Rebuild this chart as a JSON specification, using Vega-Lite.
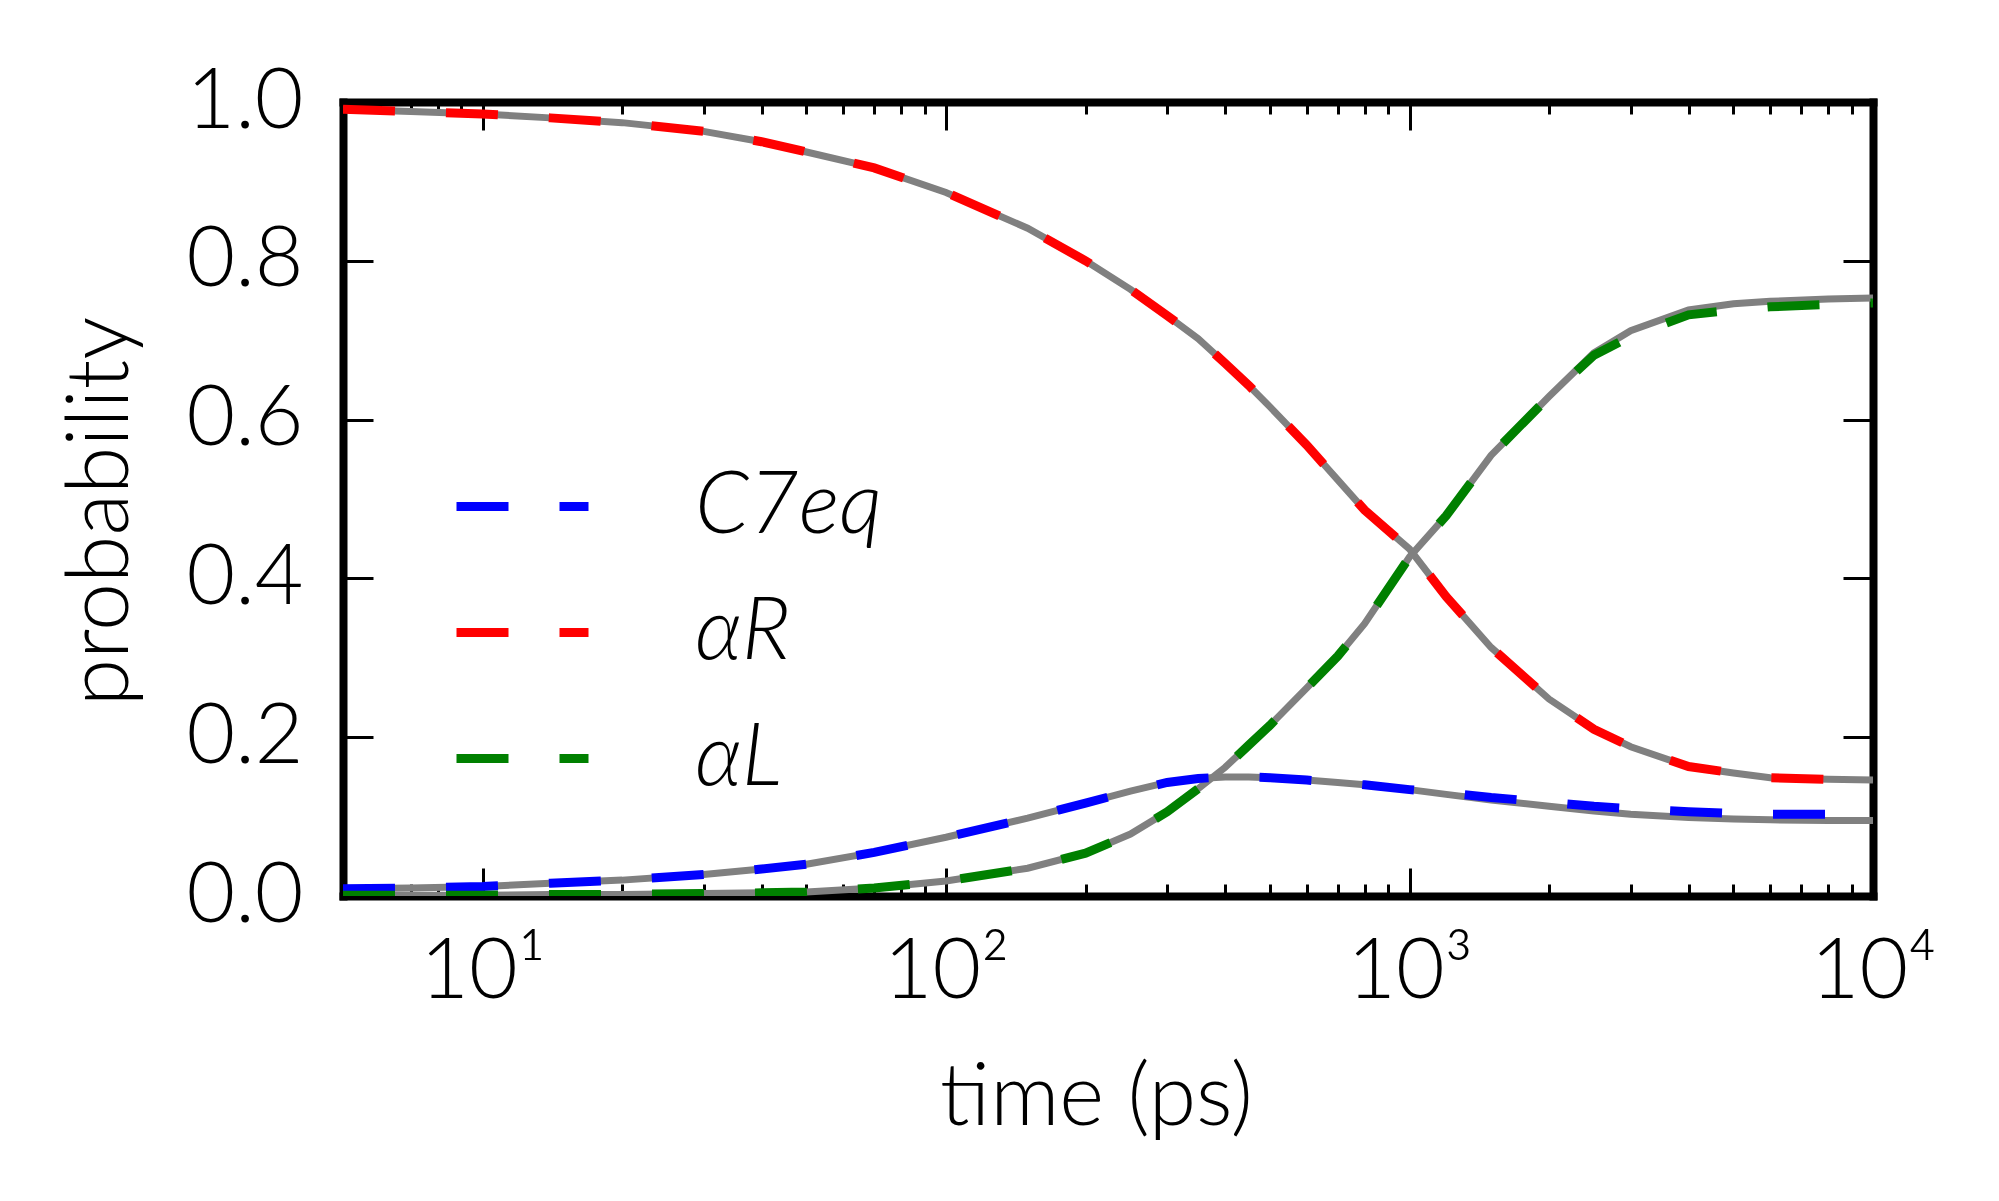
{
  "$schema": "https://vega.github.io/schema/vega-lite/v6.json",
  "background": "white",
  "autosize": "none",
  "padding": {"left": 343, "top": 102, "right": 126, "bottom": 305},
  "width": 1530,
  "height": 794,
  "data": {
    "values": [
      {"t": 5, "state": "C7eq", "p": 0.009, "fit": 0.009},
      {"t": 7, "state": "C7eq", "p": 0.010, "fit": 0.010},
      {"t": 10, "state": "C7eq", "p": 0.012, "fit": 0.012},
      {"t": 14, "state": "C7eq", "p": 0.016, "fit": 0.016},
      {"t": 20, "state": "C7eq", "p": 0.020, "fit": 0.020},
      {"t": 30, "state": "C7eq", "p": 0.027, "fit": 0.027},
      {"t": 40, "state": "C7eq", "p": 0.034, "fit": 0.034},
      {"t": 50, "state": "C7eq", "p": 0.040, "fit": 0.040},
      {"t": 70, "state": "C7eq", "p": 0.055, "fit": 0.055},
      {"t": 100, "state": "C7eq", "p": 0.074, "fit": 0.074},
      {"t": 150, "state": "C7eq", "p": 0.098, "fit": 0.098},
      {"t": 200, "state": "C7eq", "p": 0.117, "fit": 0.117},
      {"t": 250, "state": "C7eq", "p": 0.132, "fit": 0.132},
      {"t": 300, "state": "C7eq", "p": 0.143, "fit": 0.143},
      {"t": 350, "state": "C7eq", "p": 0.148, "fit": 0.148},
      {"t": 400, "state": "C7eq", "p": 0.150, "fit": 0.150},
      {"t": 450, "state": "C7eq", "p": 0.150, "fit": 0.150},
      {"t": 500, "state": "C7eq", "p": 0.149, "fit": 0.149},
      {"t": 600, "state": "C7eq", "p": 0.146, "fit": 0.146},
      {"t": 700, "state": "C7eq", "p": 0.143, "fit": 0.143},
      {"t": 800, "state": "C7eq", "p": 0.140, "fit": 0.140},
      {"t": 1000, "state": "C7eq", "p": 0.134, "fit": 0.134},
      {"t": 1200, "state": "C7eq", "p": 0.130, "fit": 0.128},
      {"t": 1500, "state": "C7eq", "p": 0.124, "fit": 0.121},
      {"t": 2000, "state": "C7eq", "p": 0.118, "fit": 0.113},
      {"t": 2500, "state": "C7eq", "p": 0.113, "fit": 0.107},
      {"t": 3000, "state": "C7eq", "p": 0.110, "fit": 0.103},
      {"t": 4000, "state": "C7eq", "p": 0.106, "fit": 0.099},
      {"t": 5000, "state": "C7eq", "p": 0.104, "fit": 0.097},
      {"t": 6000, "state": "C7eq", "p": 0.103, "fit": 0.096},
      {"t": 8000, "state": "C7eq", "p": 0.103, "fit": 0.095},
      {"t": 10000, "state": "C7eq", "p": 0.103, "fit": 0.095},

      {"t": 5, "state": "αR", "p": 0.991, "fit": 0.991},
      {"t": 7, "state": "αR", "p": 0.988, "fit": 0.988},
      {"t": 10, "state": "αR", "p": 0.985, "fit": 0.985},
      {"t": 14, "state": "αR", "p": 0.980, "fit": 0.980},
      {"t": 20, "state": "αR", "p": 0.974, "fit": 0.974},
      {"t": 30, "state": "αR", "p": 0.963, "fit": 0.963},
      {"t": 40, "state": "αR", "p": 0.950, "fit": 0.950},
      {"t": 50, "state": "αR", "p": 0.937, "fit": 0.937},
      {"t": 70, "state": "αR", "p": 0.917, "fit": 0.917},
      {"t": 100, "state": "αR", "p": 0.886, "fit": 0.886},
      {"t": 150, "state": "αR", "p": 0.841, "fit": 0.841},
      {"t": 200, "state": "αR", "p": 0.800, "fit": 0.800},
      {"t": 250, "state": "αR", "p": 0.764, "fit": 0.764},
      {"t": 300, "state": "αR", "p": 0.731, "fit": 0.731},
      {"t": 350, "state": "αR", "p": 0.702, "fit": 0.702},
      {"t": 400, "state": "αR", "p": 0.671, "fit": 0.671},
      {"t": 450, "state": "αR", "p": 0.643, "fit": 0.643},
      {"t": 500, "state": "αR", "p": 0.616, "fit": 0.616},
      {"t": 600, "state": "αR", "p": 0.568, "fit": 0.568},
      {"t": 700, "state": "αR", "p": 0.524, "fit": 0.524},
      {"t": 800, "state": "αR", "p": 0.486, "fit": 0.486},
      {"t": 1000, "state": "αR", "p": 0.437, "fit": 0.437},
      {"t": 1200, "state": "αR", "p": 0.377, "fit": 0.377},
      {"t": 1500, "state": "αR", "p": 0.313, "fit": 0.313},
      {"t": 2000, "state": "αR", "p": 0.248, "fit": 0.248},
      {"t": 2500, "state": "αR", "p": 0.210, "fit": 0.210},
      {"t": 3000, "state": "αR", "p": 0.188, "fit": 0.188},
      {"t": 4000, "state": "αR", "p": 0.163, "fit": 0.163},
      {"t": 5000, "state": "αR", "p": 0.155, "fit": 0.155},
      {"t": 6000, "state": "αR", "p": 0.149, "fit": 0.149},
      {"t": 8000, "state": "αR", "p": 0.147, "fit": 0.147},
      {"t": 10000, "state": "αR", "p": 0.146, "fit": 0.146},

      {"t": 5, "state": "αL", "p": 0.001, "fit": 0.001},
      {"t": 7, "state": "αL", "p": 0.001, "fit": 0.001},
      {"t": 10, "state": "αL", "p": 0.001, "fit": 0.001},
      {"t": 14, "state": "αL", "p": 0.002, "fit": 0.002},
      {"t": 20, "state": "αL", "p": 0.002, "fit": 0.002},
      {"t": 30, "state": "αL", "p": 0.003, "fit": 0.003},
      {"t": 40, "state": "αL", "p": 0.004, "fit": 0.004},
      {"t": 50, "state": "αL", "p": 0.005, "fit": 0.005},
      {"t": 70, "state": "αL", "p": 0.010, "fit": 0.010},
      {"t": 100, "state": "αL", "p": 0.019, "fit": 0.019},
      {"t": 150, "state": "αL", "p": 0.035, "fit": 0.035},
      {"t": 200, "state": "αL", "p": 0.054, "fit": 0.054},
      {"t": 250, "state": "αL", "p": 0.078, "fit": 0.078},
      {"t": 300, "state": "αL", "p": 0.106, "fit": 0.106},
      {"t": 350, "state": "αL", "p": 0.135, "fit": 0.135},
      {"t": 400, "state": "αL", "p": 0.162, "fit": 0.162},
      {"t": 450, "state": "αL", "p": 0.190, "fit": 0.190},
      {"t": 500, "state": "αL", "p": 0.215, "fit": 0.215},
      {"t": 600, "state": "αL", "p": 0.262, "fit": 0.262},
      {"t": 700, "state": "αL", "p": 0.302, "fit": 0.302},
      {"t": 800, "state": "αL", "p": 0.343, "fit": 0.343},
      {"t": 1000, "state": "αL", "p": 0.427, "fit": 0.427},
      {"t": 1200, "state": "αL", "p": 0.479, "fit": 0.479},
      {"t": 1500, "state": "αL", "p": 0.555, "fit": 0.555},
      {"t": 2000, "state": "αL", "p": 0.629, "fit": 0.629},
      {"t": 2500, "state": "αL", "p": 0.681, "fit": 0.684},
      {"t": 3000, "state": "αL", "p": 0.705, "fit": 0.712},
      {"t": 4000, "state": "αL", "p": 0.732, "fit": 0.738},
      {"t": 5000, "state": "αL", "p": 0.738, "fit": 0.746},
      {"t": 6000, "state": "αL", "p": 0.742, "fit": 0.749},
      {"t": 8000, "state": "αL", "p": 0.745, "fit": 0.752},
      {"t": 10000, "state": "αL", "p": 0.747, "fit": 0.753}
    ]
  },
  "layer": [
    {
      "mark": {"type": "line", "color": "#808080", "strokeWidth": 7, "clip": true},
      "encoding": {
        "x": {
          "field": "t",
          "type": "quantitative",
          "scale": {"type": "log", "domain": [5, 10000], "nice": false},
          "axis": {
            "orient": "bottom",
            "values": [10, 100, 1000, 10000],
            "ticks": false,
            "labelPadding": 101,
            "labelBaseline": "alphabetic",
            "labelAlign": "center",
            "labelExpr": "datum.value === 10 ? '10¹' : datum.value === 100 ? '10²' : datum.value === 1000 ? '10³' : '10⁴'",
            "title": "time (ps)",
            "titleX": 753,
            "titleY": 228,
            "titleAlign": "center",
            "titleBaseline": "alphabetic",
            "domain": true
          }
        },
        "y": {
          "field": "fit",
          "type": "quantitative",
          "scale": {"domain": [0, 1], "nice": false, "zero": false},
          "axis": {
            "orient": "left",
            "values": [0, 0.2, 0.4, 0.6, 0.8, 1.0],
            "format": ".1f",
            "ticks": false,
            "labelPadding": 40,
            "labelBaseline": "middle",
            "title": "probability",
            "titleAngle": 270,
            "titleX": -216,
            "titleY": 409,
            "titleAlign": "center",
            "titleBaseline": "alphabetic",
            "domain": true
          }
        },
        "detail": {"field": "state", "type": "nominal"}
      }
    },
    {
      "mark": {"type": "line", "strokeWidth": 9, "strokeDash": [52, 51], "clip": true},
      "encoding": {
        "x": {
          "field": "t",
          "type": "quantitative",
          "scale": {"type": "log", "domain": [5, 10000], "nice": false},
          "axis": {
            "orient": "bottom",
            "values": [10, 100, 1000, 10000],
            "tickSize": -28,
            "labels": false,
            "title": null,
            "domain": false
          }
        },
        "y": {
          "field": "p",
          "type": "quantitative",
          "scale": {"domain": [0, 1], "nice": false, "zero": false},
          "axis": {
            "orient": "left",
            "values": [0, 0.2, 0.4, 0.6, 0.8, 1.0],
            "tickSize": -30,
            "labels": false,
            "title": null,
            "domain": false
          }
        },
        "color": {
          "field": "state",
          "type": "nominal",
          "scale": {"domain": ["C7eq", "αR", "αL"], "range": ["#0000ff", "#ff0000", "#008000"]},
          "legend": {
            "orient": "none",
            "legendX": 109,
            "legendY": 334,
            "title": null,
            "padding": 0,
            "symbolType": "stroke",
            "symbolSize": 17424,
            "symbolStrokeWidth": 9,
            "symbolDash": [52, 51],
            "labelFont": "Lato",
            "labelFontSize": 86,
            "labelFontWeight": 300,
            "labelFontStyle": "italic",
            "labelColor": "black",
            "labelBaseline": "middle",
            "labelLimit": 500,
            "labelOffset": 102,
            "rowPadding": 12
          }
        }
      }
    },
    {
      "mark": {"type": "line", "strokeOpacity": 0, "clip": true},
      "encoding": {
        "x": {
          "field": "t",
          "type": "quantitative",
          "scale": {"type": "log", "domain": [5, 10000], "nice": false},
          "axis": {
            "orient": "bottom",
            "values": [5, 6, 7, 8, 9, 20, 30, 40, 50, 60, 70, 80, 90, 200, 300, 400, 500, 600, 700, 800, 900, 2000, 3000, 4000, 5000, 6000, 7000, 8000, 9000],
            "tickSize": -12,
            "labels": false,
            "title": null,
            "domain": false
          }
        },
        "y": {
          "field": "p",
          "type": "quantitative",
          "scale": {"domain": [0, 1], "nice": false, "zero": false},
          "axis": {
            "orient": "right",
            "values": [0, 0.2, 0.4, 0.6, 0.8, 1.0],
            "tickSize": -30,
            "labels": false,
            "title": null,
            "domain": true
          }
        },
        "detail": {"field": "state", "type": "nominal"}
      }
    },
    {
      "mark": {"type": "line", "strokeOpacity": 0, "clip": true},
      "encoding": {
        "x": {
          "field": "t",
          "type": "quantitative",
          "scale": {"type": "log", "domain": [5, 10000], "nice": false},
          "axis": {
            "orient": "top",
            "values": [10, 100, 1000, 10000],
            "tickSize": -28,
            "labels": false,
            "title": null,
            "domain": true
          }
        },
        "y": {
          "field": "p",
          "type": "quantitative",
          "scale": {"domain": [0, 1], "nice": false, "zero": false},
          "axis": null
        },
        "detail": {"field": "state", "type": "nominal"}
      }
    },
    {
      "mark": {"type": "line", "strokeOpacity": 0, "clip": true},
      "encoding": {
        "x": {
          "field": "t",
          "type": "quantitative",
          "scale": {"type": "log", "domain": [5, 10000], "nice": false},
          "axis": {
            "orient": "top",
            "values": [5, 6, 7, 8, 9, 20, 30, 40, 50, 60, 70, 80, 90, 200, 300, 400, 500, 600, 700, 800, 900, 2000, 3000, 4000, 5000, 6000, 7000, 8000, 9000],
            "tickSize": -12,
            "labels": false,
            "title": null,
            "domain": false
          }
        },
        "y": {
          "field": "p",
          "type": "quantitative",
          "scale": {"domain": [0, 1], "nice": false, "zero": false},
          "axis": null
        },
        "detail": {"field": "state", "type": "nominal"}
      }
    }
  ],
  "resolve": {"axis": {"x": "independent", "y": "independent"}},
  "config": {
    "view": {"stroke": null},
    "axis": {
      "labelFont": "Lato",
      "titleFont": "Lato",
      "labelFontSize": 84,
      "titleFontSize": 86,
      "labelFontWeight": 300,
      "titleFontWeight": 300,
      "labelColor": "black",
      "titleColor": "black",
      "tickColor": "black",
      "tickWidth": 3,
      "domainColor": "black",
      "domainWidth": 8,
      "domainCap": "square",
      "grid": false,
      "zindex": 1,
      "labelFlush": false,
      "labelOverlap": false
    }
  }
}
